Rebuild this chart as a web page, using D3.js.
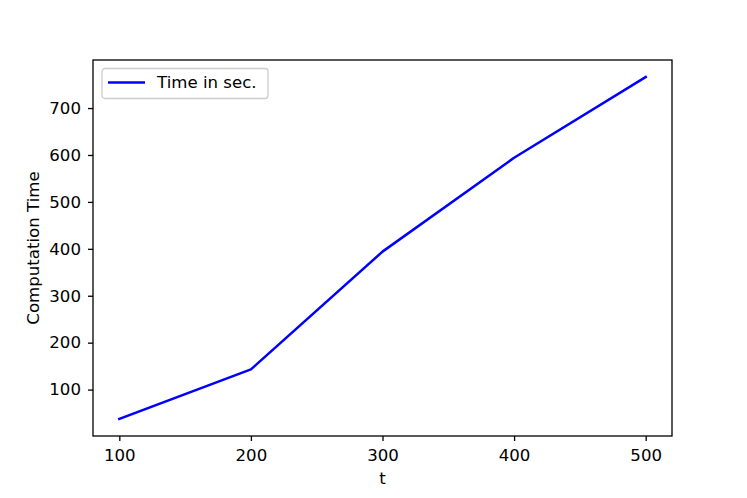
<!DOCTYPE html>
<html>
<head>
<meta charset="utf-8">
<script src="https://cdn.jsdelivr.net/npm/d3@7"></script>
<style>
  body { margin: 0; background: #fff; }
  text { font-family: "DejaVu Sans", sans-serif; }
</style>
</head>
<body>
<svg id="chart" width="747" height="498"></svg>
<script>
const tValues = [100, 200, 300, 400, 500];
const timeValues = [37.5, 143, 394, 594, 766];
const xTicks = [100, 200, 300, 400, 500];
const yTicks = [100, 200, 300, 400, 500, 600, 700];
const seriesName = "Time in sec.";

const svg = d3.select("#chart");

const margin = { top: 60, right: 75, bottom: 62, left: 93 };
const width = 747 - margin.left - margin.right;
const height = 498 - margin.top - margin.bottom;
const fontSize = "16.6px";

const g = svg.append("g")
    .attr("transform", `translate(${margin.left},${margin.top})`);

// matplotlib-like 5% margins
const xPad = (d3.max(tValues) - d3.min(tValues)) * 0.05;
const yPad = (d3.max(timeValues) - d3.min(timeValues)) * 0.05;

const x = d3.scaleLinear()
    .domain([d3.min(tValues) - xPad, d3.max(tValues) + xPad])
    .range([0, width]);

const y = d3.scaleLinear()
    .domain([d3.min(timeValues) - yPad, d3.max(timeValues) + yPad])
    .range([height, 0]);

// Axes
const xAxis = g.append("g")
    .attr("transform", `translate(0,${height})`)
    .call(d3.axisBottom(x).tickValues(xTicks).tickSize(5).tickPadding(8));

const yAxis = g.append("g")
    .call(d3.axisLeft(y).tickValues(yTicks).tickSize(5).tickPadding(7));

[xAxis, yAxis].forEach(a => {
  a.selectAll("text")
    .style("font-size", fontSize)
    .style("font-family", "DejaVu Sans, sans-serif")
    .attr("fill", "#000");
  a.selectAll("line").attr("stroke", "#000").attr("stroke-width", 1.3);
  a.select(".domain").remove();
});

// Frame
g.append("rect")
  .attr("x", 0)
  .attr("y", 0)
  .attr("width", width)
  .attr("height", height)
  .attr("fill", "none")
  .attr("stroke", "#000")
  .attr("stroke-width", 1.3);

// Line
const line = d3.line()
    .x((d, i) => x(tValues[i]))
    .y(d => y(d));

g.append("path")
  .datum(timeValues)
  .attr("d", line)
  .attr("fill", "none")
  .attr("stroke", "#0000ff")
  .attr("stroke-width", 2.5)
  .attr("stroke-linejoin", "round")
  .attr("stroke-linecap", "square");

// Axis labels
g.append("text")
  .attr("x", width / 2)
  .attr("y", height + 48)
  .attr("text-anchor", "middle")
  .style("font-size", fontSize)
  .text("t");

g.append("text")
  .attr("transform", `translate(${33 - margin.left},${height / 2}) rotate(-90)`)
  .attr("text-anchor", "middle")
  .attr("dy", "0.35em")
  .style("font-size", fontSize)
  .text("Computation Time");

// Legend
const legend = g.append("g")
  .attr("transform", "translate(9,8.5)");

legend.append("rect")
  .attr("width", 166)
  .attr("height", 30)
  .attr("rx", 3)
  .attr("fill", "#fff")
  .attr("fill-opacity", 0.8)
  .attr("stroke", "#ccc")
  .attr("stroke-width", 1.3);

legend.append("line")
  .attr("x1", 6)
  .attr("x2", 43)
  .attr("y1", 14)
  .attr("y2", 14)
  .attr("stroke", "#0000ff")
  .attr("stroke-width", 2.5);

legend.append("text")
  .attr("x", 55)
  .attr("y", 14)
  .attr("dy", "0.35em")
  .style("font-size", fontSize)
  .text(seriesName);
</script>
</body>
</html>
